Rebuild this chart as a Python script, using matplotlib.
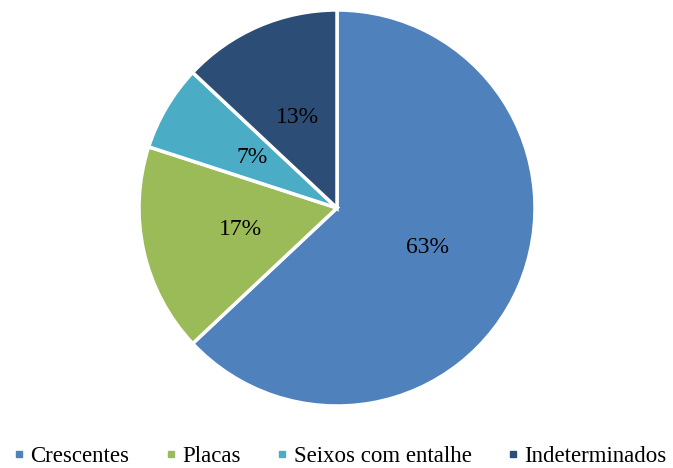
import matplotlib.pyplot as plt
from matplotlib.lines import Line2D

# Category shares (%)
categories = ['Crescentes', 'Placas', 'Seixos com entalhe', 'Indeterminados']
shares = [63, 17, 7, 13]
colors = ['#4F81BD', '#9BBB59', '#4BACC6', '#2C4D75']

plt.rcParams['font.family'] = ['Liberation Serif', 'DejaVu Serif']

fig = plt.figure(figsize=(6.73, 4.68), dpi=100)
ax = fig.add_axes([0, 0, 1, 1])

wedges, texts, autotexts = ax.pie(shares, colors=colors, startangle=90, counterclock=False,
                                  autopct='%1.0f%%', pctdistance=0.5,
                                  wedgeprops=dict(edgecolor='white', linewidth=2.5),
                                  textprops=dict(fontsize=17, color='black'),
                                  center=(337, 260), radius=198)
ax.set_xlim(0, 673)
ax.set_ylim(0, 468)
ax.set_aspect('equal')
ax.axis('off')

handles = [Line2D([], [], marker='s', linestyle='', markersize=4.5, color=c) for c in colors]
fig.legend(handles, categories, loc='lower center', bbox_to_anchor=(0.505, -0.032), ncol=4,
           frameon=False, fontsize=16.5, handletextpad=0.26, columnspacing=1.55,
           handlelength=0.5, borderaxespad=0.3)

fig.savefig('out.png', dpi=100)
